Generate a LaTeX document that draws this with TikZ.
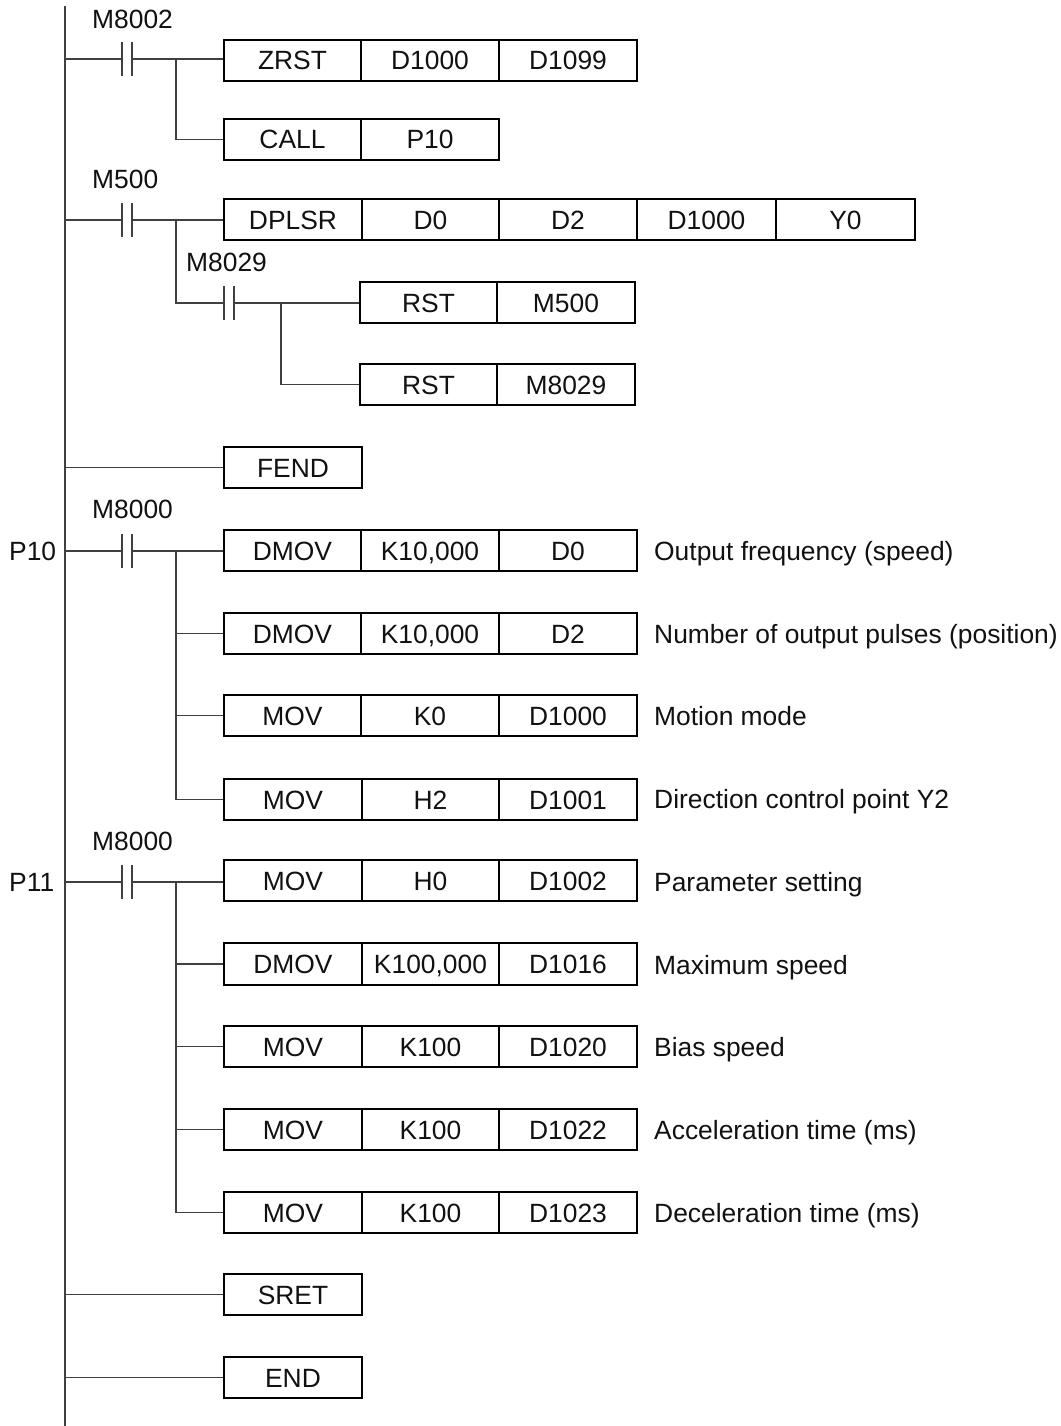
\documentclass[tikz,border=0pt]{standalone}
\usepackage{fontspec}
\setmainfont{Liberation Sans}
\definecolor{wirec}{HTML}{404040}
\definecolor{inkc}{HTML}{111111}
\tikzset{
  wire/.style={draw=wirec,line width=1.5pt},
  plate/.style={draw=wirec,line width=1.2pt},
  cellb/.style={draw=black,line width=2pt,rectangle,inner sep=0pt,text=inkc,text height=19pt,text depth=0pt,font=\fontsize{26.4}{30}\selectfont},
  lab/.style={anchor=base west,inner sep=0pt,text=inkc,font=\fontsize{26.4}{30}\selectfont},
  contactpt/.style={inner sep=0pt,minimum size=0pt}
}
\newcommand\cellbox[6]{\node[cellb,minimum width={#3-#2},minimum height={#5-#4}] (#1) at ({(#2+#3)/2},{(#4+#5)/2}) {#6};}
% name, x left plate, y : two plates with named end coordinates
\newcommand\contact[3]{%
  \coordinate (#1l) at (#2,#3);
  \coordinate (#1r) at ({#2+10},#3);
  \draw[plate] ([yshift=17pt]#1l) -- ([yshift=-17pt]#1l);
  \draw[plate] ([yshift=17pt]#1r) -- ([yshift=-17pt]#1r);}
\begin{document}
\begin{tikzpicture}[x=1pt,y=-1pt]
\useasboundingbox (0,0) rectangle (1060,1426);
\coordinate (railtop) at (65,6);
\coordinate (railbot) at (65,1426);
\draw[wire] (railtop) -- (railbot);

% Rung 1
\node[lab] (lm8002) at (92,29) {M8002};
\contact{ca}{122}{59}
\cellbox{a1}{224}{361}{40}{81}{ZRST}
\cellbox{a2}{361}{499}{40}{81}{D1000}
\cellbox{a3}{499}{637}{40}{81}{D1099}
\cellbox{b1}{224}{361}{119}{160}{CALL}
\cellbox{b2}{361}{499}{119}{160}{P10}
\draw[wire] (railtop |- cal) -- (cal);
\draw[wire] (car) -- (car -| a1.west);
\coordinate (ja) at (176,59);
\draw[wire] (ja) |- (b1.west);

% Rung 2
\node[lab] (lm500) at (92,188) {M500};
\contact{cb}{122}{220}
\cellbox{c1}{224}{362}{199}{240}{DPLSR}
\cellbox{c2}{362}{499}{199}{240}{D0}
\cellbox{c3}{499}{637}{199}{240}{D2}
\cellbox{c4}{637}{776}{199}{240}{D1000}
\cellbox{c5}{776}{915}{199}{240}{Y0}
\draw[wire] (railtop |- cbl) -- (cbl);
\draw[wire] (cbr) -- (cbr -| c1.west);
\coordinate (jb) at (176,220);
\node[lab] (lm8029) at (186,271) {M8029};
\contact{cc}{224}{303}
\draw[wire] (jb) |- (ccl);
\cellbox{d1}{360}{497}{282}{323}{RST}
\cellbox{d2}{497}{635}{282}{323}{M500}
\cellbox{e1}{360}{497}{364}{405}{RST}
\cellbox{e2}{497}{635}{364}{405}{M8029}
\draw[wire] (ccr) -- (ccr -| d1.west);
\coordinate (jc) at (281,303);
\draw[wire] (jc) |- (e1.west);

% FEND
\cellbox{f1}{224}{362}{447}{488}{FEND}
\draw[wire] (railtop |- f1.west) -- (f1.west);

% P10
\node[lab] (lm8000a) at (92,518) {M8000};
\node[lab] (lp10) at (9,560) {P10};
\contact{cd}{122}{551}
\cellbox{g1}{224}{361}{530}{571}{DMOV}
\cellbox{g2}{361}{499}{530}{571}{K10,000}
\cellbox{g3}{499}{637}{530}{571}{D0}
\node[lab] (tg) at (654,560) {Output frequency (speed)};
\cellbox{h1}{224}{361}{613}{654}{DMOV}
\cellbox{h2}{361}{499}{613}{654}{K10,000}
\cellbox{h3}{499}{637}{613}{654}{D2}
\node[lab] (th) at (654,643) {Number of output pulses (position)};
\cellbox{i1}{224}{361}{695}{736}{MOV}
\cellbox{i2}{361}{499}{695}{736}{K0}
\cellbox{i3}{499}{637}{695}{736}{D1000}
\node[lab] (ti) at (654,725) {Motion mode};
\cellbox{j1}{224}{362}{779}{820}{MOV}
\cellbox{j2}{362}{499}{779}{820}{H2}
\cellbox{j3}{499}{637}{779}{820}{D1001}
\node[lab] (tj) at (654,808) {Direction control point Y2};
\draw[wire] (railtop |- cdl) -- (cdl);
\draw[wire] (cdr) -- (cdr -| g1.west);
\coordinate (jd) at (176,551);
\draw[wire] (jd) |- (h1.west);
\draw[wire] (jd) |- (i1.west);
\draw[wire] (jd) |- (j1.west);

% P11
\node[lab] (lm8000b) at (92,850) {M8000};
\node[lab] (lp11) at (9,891) {P11};
\contact{ce}{122}{882}
\cellbox{k1}{224}{362}{860}{901}{MOV}
\cellbox{k2}{362}{499}{860}{901}{H0}
\cellbox{k3}{499}{637}{860}{901}{D1002}
\node[lab] (tk) at (654,891) {Parameter setting};
\cellbox{l1}{224}{362}{943}{985}{DMOV}
\cellbox{l2}{362}{499}{943}{985}{K100,000}
\cellbox{l3}{499}{637}{943}{985}{D1016}
\node[lab] (tl) at (654,974) {Maximum speed};
\cellbox{m1}{224}{362}{1026}{1067}{MOV}
\cellbox{m2}{362}{499}{1026}{1067}{K100}
\cellbox{m3}{499}{637}{1026}{1067}{D1020}
\node[lab] (tm) at (654,1056) {Bias speed};
\cellbox{n1}{224}{362}{1109}{1150}{MOV}
\cellbox{n2}{362}{499}{1109}{1150}{K100}
\cellbox{n3}{499}{637}{1109}{1150}{D1022}
\node[lab] (tn) at (654,1139) {Acceleration time (ms)};
\cellbox{o1}{224}{362}{1192}{1233}{MOV}
\cellbox{o2}{362}{499}{1192}{1233}{K100}
\cellbox{o3}{499}{637}{1192}{1233}{D1023}
\node[lab] (to) at (654,1222) {Deceleration time (ms)};
\draw[wire] (railtop |- cel) -- (cel);
\draw[wire] (cer) -- (cer -| k1.west);
\coordinate (je) at (176,882);
\draw[wire] (je) |- (l1.west);
\draw[wire] (je) |- (m1.west);
\draw[wire] (je) |- (n1.west);
\draw[wire] (je) |- (o1.west);

% SRET, END
\cellbox{p1}{224}{362}{1274}{1315}{SRET}
\draw[wire] (railtop |- p1.west) -- (p1.west);
\cellbox{q1}{224}{362}{1357}{1398}{END}
\draw[wire] (railtop |- q1.west) -- (q1.west);
\end{tikzpicture}
\end{document}
